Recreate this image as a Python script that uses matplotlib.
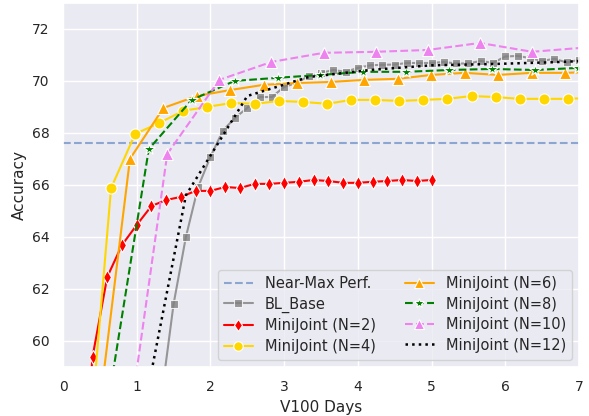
import matplotlib
matplotlib.use("Agg")
import matplotlib.pyplot as plt
import seaborn as sns

sns.set_theme(style="darkgrid")
plt.rcParams['font.family'] = ['DejaVu Sans']

near_max = 67.6

bl_x = [1.333, 1.5, 1.667, 1.833, 2.0, 2.167, 2.333, 2.5, 2.667, 2.833, 3.0, 3.167,
        3.333, 3.5, 3.667, 3.833, 4.0, 4.167, 4.333, 4.5, 4.667, 4.833, 5.0, 5.167,
        5.333, 5.5, 5.667, 5.833, 6.0, 6.167, 6.333, 6.5, 6.667, 6.833, 7.0]
bl_y = [57.8, 61.42, 64.0, 65.92, 67.08, 68.08, 68.58, 68.96, 69.38, 69.38, 69.77, 69.92,
        70.19, 70.31, 70.42, 70.35, 70.5, 70.6, 70.62, 70.63, 70.69, 70.69, 70.69, 70.73,
        70.67, 70.67, 70.77, 70.69, 70.94, 70.96, 70.88, 70.77, 70.85, 70.71, 70.81]

n2_x = [0.2, 0.4, 0.6, 0.8, 1.0, 1.2, 1.4, 1.6, 1.8, 2.0, 2.2, 2.4, 2.6, 2.8, 3.0,
        3.2, 3.4, 3.6, 3.8, 4.0, 4.2, 4.4, 4.6, 4.8, 5.0]
n2_y = [52.0, 59.38, 62.46, 63.69, 64.46, 65.19, 65.42, 65.54, 65.77, 65.77, 65.92, 65.88,
        66.04, 66.04, 66.08, 66.12, 66.19, 66.15, 66.08, 66.08, 66.12, 66.15, 66.19, 66.15, 66.19]

n4_x = [0.326, 0.652, 0.978, 1.304, 1.63, 1.956, 2.282, 2.608, 2.934, 3.26, 3.586,
        3.912, 4.238, 4.564, 4.89, 5.216, 5.542, 5.868, 6.194, 6.52, 6.846, 7.172]
n4_y = [55.0, 65.88, 67.96, 68.38, 68.85, 69.0, 69.15, 69.12, 69.23, 69.19, 69.12,
        69.27, 69.27, 69.23, 69.27, 69.31, 69.42, 69.38, 69.31, 69.31, 69.31, 69.35]

n6_x = [0.454, 0.908, 1.362, 1.816, 2.27, 2.724, 3.178, 3.632, 4.086, 4.54, 4.994,
        5.448, 5.902, 6.356, 6.81, 7.264]
n6_y = [56.5, 67.0, 68.96, 69.42, 69.65, 69.85, 69.92, 69.96, 70.04, 70.08, 70.23,
        70.31, 70.23, 70.31, 70.31, 70.35]

n8_x = [0.582, 1.164, 1.746, 2.328, 2.91, 3.492, 4.074, 4.656, 5.238, 5.82, 6.402, 6.984]
n8_y = [57.1, 67.38, 69.27, 70.0, 70.12, 70.23, 70.35, 70.35, 70.42, 70.46, 70.42, 70.5]

n10_x = [0.707, 1.414, 2.121, 2.828, 3.535, 4.242, 4.949, 5.656, 6.363, 7.07]
n10_y = [53.0, 67.19, 70.04, 70.73, 71.08, 71.12, 71.19, 71.46, 71.12, 71.28]

n12_x = [0.833, 1.667, 2.5, 3.333, 4.167, 5.0, 5.833, 6.667, 7.5]
n12_y = [53.5, 65.6, 69.42, 70.15, 70.42, 70.6, 70.65, 70.72, 70.82]

fig = plt.figure(figsize=(5.89, 4.16), dpi=100)
ax = fig.add_axes([0.107, 0.118, 0.876, 0.875])

ax.axhline(near_max, color='#8da5d1', ls='--', lw=1.5, label='Near-Max Perf.')
ax.plot(bl_x, bl_y, color='gray', marker='s', ms=6, mec='white', mew=0.8, lw=1.5,
        alpha=0.8, label='BL_Base')
ax.plot(n2_x, n2_y, color='red', marker='d', ms=7, mec='white', mew=0.8, lw=1.5,
        label='MiniJoint (N=2)')
ax.plot(n4_x, n4_y, color='gold', marker='o', ms=8, mec='white', mew=0.8, lw=1.5,
        label='MiniJoint (N=4)')
ax.plot(n6_x, n6_y, color='orange', marker='^', ms=8, mec='white', mew=0.8, lw=1.5,
        label='MiniJoint (N=6)')
ax.plot(n8_x, n8_y, color='green', marker='*', ms=9, mec='white', mew=0.8, lw=1.5,
        ls='--', label='MiniJoint (N=8)')
ax.plot(n10_x, n10_y, color='violet', marker='^', ms=9, mec='white', mew=0.8, lw=1.5,
        ls='--', label='MiniJoint (N=10)')
ax.plot(n12_x, n12_y, color='black', lw=1.8, ls=':', label='MiniJoint (N=12)')

ax.set_xlim(0, 7)
ax.set_ylim(59, 73)
ax.set_yticks([60, 62, 64, 66, 68, 70, 72])
ax.set_xticks([0, 1, 2, 3, 4, 5, 6, 7])
ax.tick_params(labelsize=10)
ax.set_xlabel('V100 Days', fontsize=11)
ax.set_ylabel('Accuracy', fontsize=11)
ax.legend(loc='lower right', ncol=2, fontsize=10.5, markerscale=0.85, labelspacing=0.38)

fig.savefig('out.png', dpi=100)
